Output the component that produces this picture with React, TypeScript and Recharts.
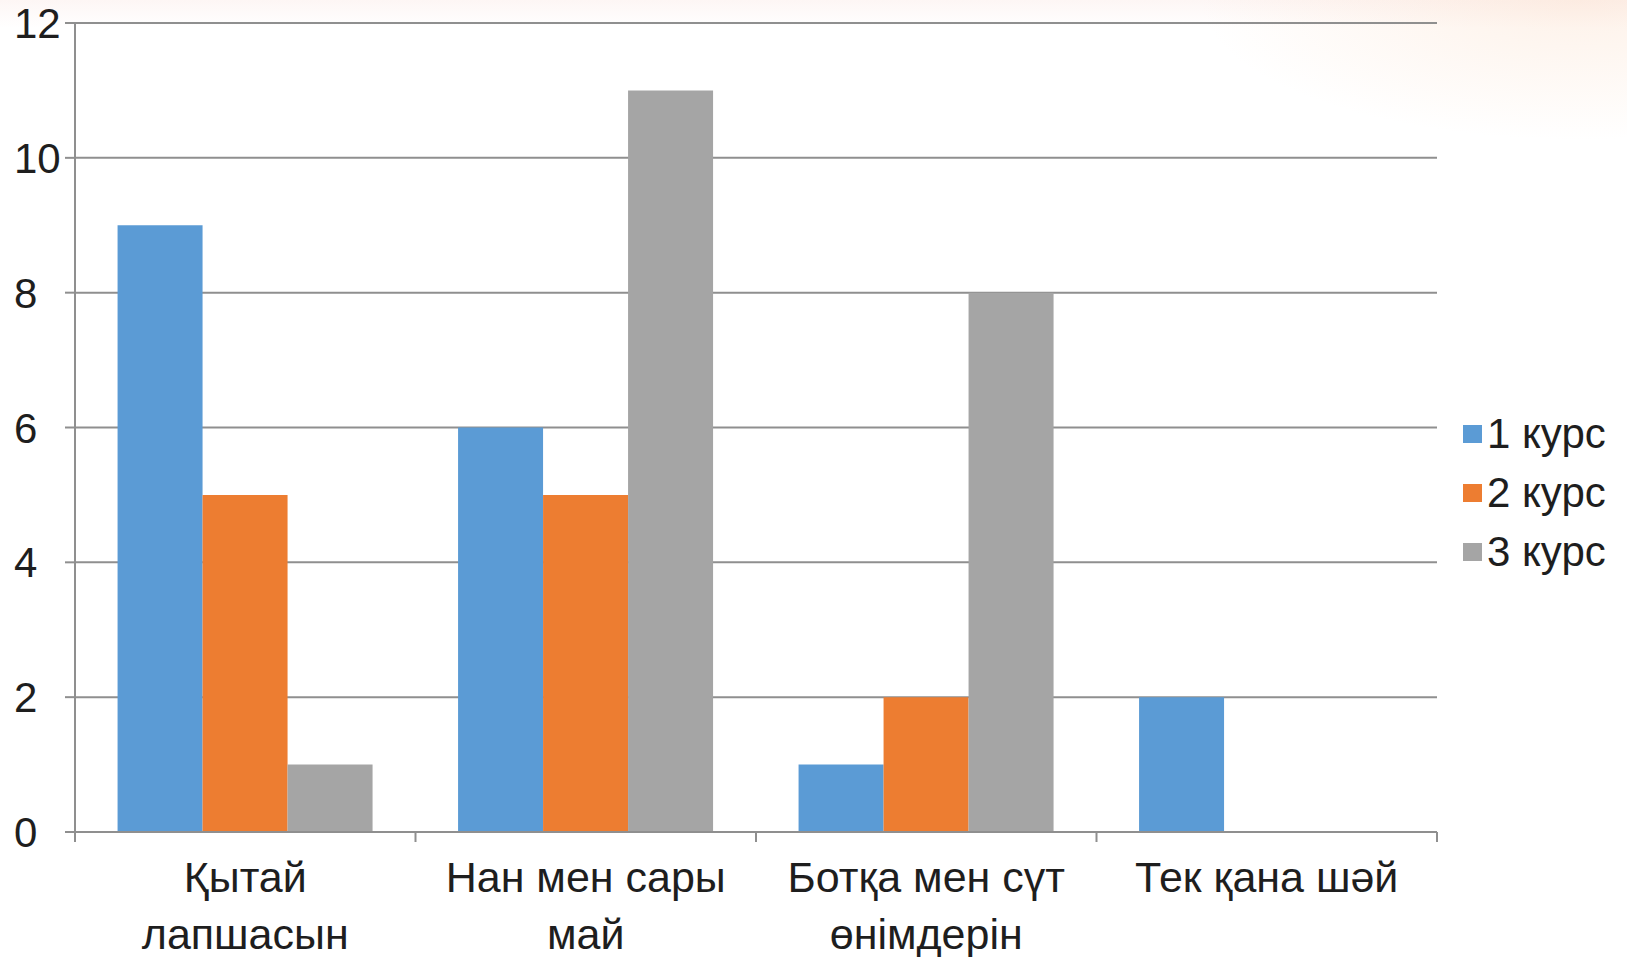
import React from "react";
import { Bar, BarChart, CartesianGrid, Legend, XAxis, YAxis } from "recharts";

const categories = ["Қытай\nлапшасын", "Нан мен сары\nмай", "Ботқа мен сүт\nөнімдерін", "Тек қана шәй"];
const course1 = [9, 6, 1, 2];
const course2 = [5, 5, 2, 0];
const course3 = [1, 11, 8, 0];
const seriesNames = ["1 курс", "2 курс", "3 курс"];
const seriesColors = ["#5B9BD5", "#ED7D31", "#A5A5A5"];
const yTicks = [0, 2, 4, 6, 8, 10, 12];

const data = categories.map((name, i) => ({
  name,
  c1: course1[i],
  c2: course2[i],
  c3: course3[i],
}));

const FONT = "'Liberation Sans', Arial, sans-serif";
const TEXT = "#1e1e1e";
const GRID = "#8f8f8f";
const PLOT_LEFT = 75;
const PLOT_RIGHT = 1437;
const BAND = (PLOT_RIGHT - PLOT_LEFT) / categories.length;

function YTick(props: any) {
  const { y, payload } = props;
  return (
    <text x={14} y={y} dy="0.36em" textAnchor="start" fill={TEXT} fontSize={42} fontFamily={FONT}>
      {payload.value}
    </text>
  );
}

function XTick(props: any) {
  const { x, y, payload, index } = props;
  const lines = String(payload.value).split("\n");
  const left = x - BAND / 2;
  const right = x + BAND / 2;
  return (
    <g>
      <line x1={left} y1={y} x2={left} y2={y + 10} stroke={GRID} strokeWidth={2} />
      {index === categories.length - 1 && (
        <line x1={right} y1={y} x2={right} y2={y + 10} stroke={GRID} strokeWidth={2} />
      )}
      <text textAnchor="middle" fill={TEXT} fontSize={43} fontFamily={FONT}>
        {lines.map((l, i) => (
          <tspan key={i} x={x} y={y + 60 + i * 57}>
            {l}
          </tspan>
        ))}
      </text>
    </g>
  );
}

function LegendContent() {
  return (
    <div style={{ fontFamily: FONT, fontSize: 42, color: TEXT }}>
      {seriesNames.map((n, i) => (
        <div key={n} style={{ display: "flex", alignItems: "center", height: 59, whiteSpace: "nowrap" }}>
          <span
            style={{
              display: "inline-block",
              width: 19,
              height: 18,
              background: seriesColors[i],
              marginRight: 5,
            }}
          />
          <span>{n}</span>
        </div>
      ))}
    </div>
  );
}

export default function App() {
  return (
    <div
      style={{
        position: "absolute",
        left: 0,
        top: 0,
        width: 1627,
        height: 957,
        background:
          "radial-gradient(ellipse 380px 140px at 1580px 0px, rgba(250,210,180,0.3), rgba(255,255,255,0) 100%), linear-gradient(180deg, rgba(252,240,238,0.6) 0px, rgba(255,255,255,0) 28px), #ffffff",
      }}
    >
      <BarChart
        width={1627}
        height={957}
        data={data}
        margin={{ top: 23, right: 190, bottom: 0, left: 0 }}
        barCategoryGap="12.5%"
        barGap={0}
      >
        <CartesianGrid vertical={false} stroke={GRID} strokeWidth={2} />
        <XAxis
          dataKey="name"
          height={125}
          interval={0}
          tickSize={0}
          tickMargin={0}
          tickLine={false}
          axisLine={{ stroke: GRID, strokeWidth: 2 }}
          tick={<XTick />}
        />
        <YAxis
          width={75}
          domain={[0, 12]}
          ticks={yTicks}
          interval={0}
          tickSize={10}
          tickLine={{ stroke: GRID, strokeWidth: 2 }}
          axisLine={{ stroke: GRID, strokeWidth: 2 }}
          tick={<YTick />}
        />
        <Legend
          layout="horizontal"
          align="center"
          verticalAlign="middle"
          content={<LegendContent />}
          wrapperStyle={{ left: 1463, top: 404, width: 160 }}
        />
        <Bar dataKey="c1" name={seriesNames[0]} fill={seriesColors[0]} isAnimationActive={false} />
        <Bar dataKey="c2" name={seriesNames[1]} fill={seriesColors[1]} isAnimationActive={false} />
        <Bar dataKey="c3" name={seriesNames[2]} fill={seriesColors[2]} isAnimationActive={false} />
      </BarChart>
    </div>
  );
}
